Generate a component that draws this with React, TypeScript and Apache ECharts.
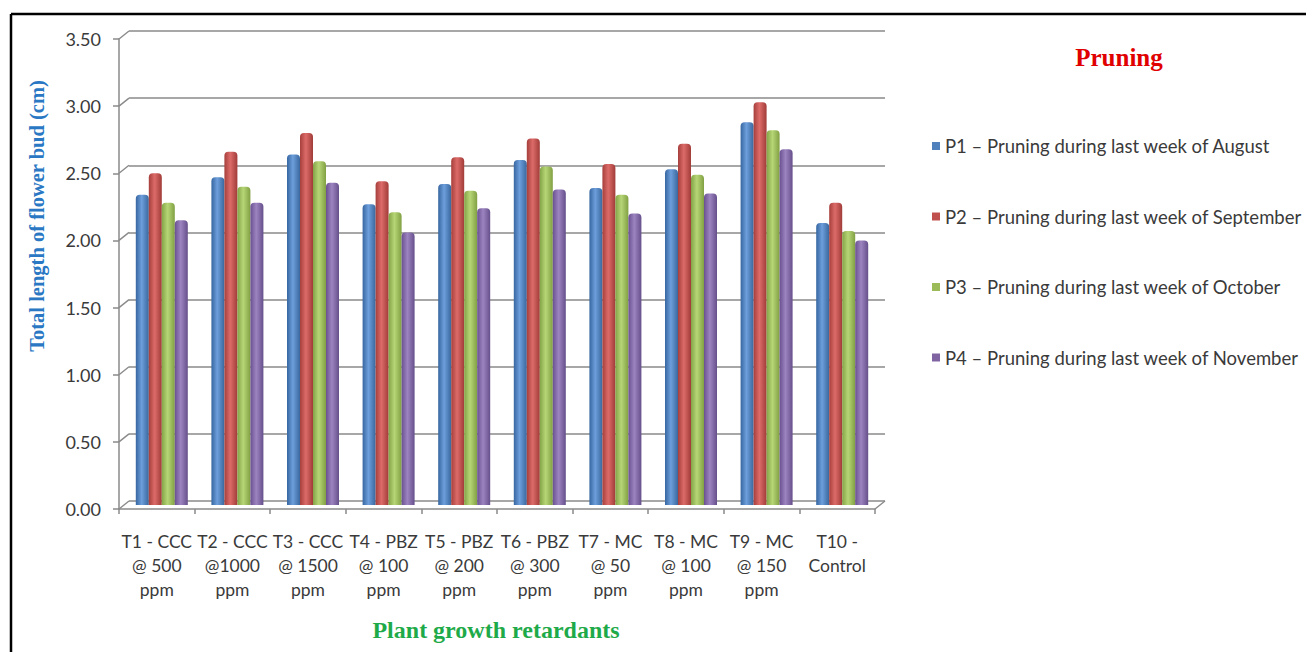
import React, { useEffect, useRef } from "react";
import * as echarts from "echarts";

const categories = [
  "T1 - CCC\n@ 500\nppm",
  "T2 - CCC\n@1000\nppm",
  "T3 - CCC\n@ 1500\nppm",
  "T4 - PBZ\n@ 100\nppm",
  "T5 - PBZ\n@ 200\nppm",
  "T6 - PBZ\n@ 300\nppm",
  "T7 - MC\n@ 50\nppm",
  "T8 - MC\n@ 100\nppm",
  "T9 - MC\n@ 150\nppm",
  "T10 -\nControl",
];
const seriesNames = [
  "P1 – Pruning during last week of August",
  "P2 – Pruning during last week of September",
  "P3 – Pruning during last week of October",
  "P4 – Pruning during last week of November",
];
const p1 = [2.31, 2.44, 2.61, 2.24, 2.39, 2.57, 2.36, 2.5, 2.85, 2.1];
const p2 = [2.47, 2.63, 2.77, 2.41, 2.59, 2.73, 2.54, 2.69, 3.0, 2.25];
const p3 = [2.25, 2.37, 2.56, 2.18, 2.34, 2.52, 2.31, 2.46, 2.79, 2.04];
const p4 = [2.12, 2.25, 2.4, 2.03, 2.21, 2.35, 2.17, 2.32, 2.65, 1.97];
const yTicks = [0, 0.5, 1, 1.5, 2, 2.5, 3, 3.5];
const yMin = 0;
const yMax = 3.5;
const yInterval = 0.5;

const colors = [
  ["#3766a0", "#6d9fdc", "#3a679d"],
  ["#a63f3c", "#dc6b68", "#a13c39"],
  ["#83a447", "#b6d676", "#80a043"],
  ["#6a5090", "#9c84c0", "#66508c"],
];
const legendColors = ["#4f81bd", "#c0504d", "#9bbb59", "#8064a2"];

// layout
const FX = 119, FY = 39, FW = 756, FH = 470; // front plane
const DX = 10, DY = -8; // depth offset of back wall

export default function App() {
  const ref = useRef<HTMLDivElement>(null);
  useEffect(() => {
    const chart = echarts.init(ref.current!, null, { renderer: "svg" });
    const data = [p1, p2, p3, p4];
    const yPix = (v: number) => FY + ((yMax - v) / (yMax - yMin)) * FH;
    const gray = "#8a8a8a";
    const diagLines: any[] = yTicks.map((v) => ({
      type: "line",
      shape: { x1: FX, y1: yPix(v), x2: FX + DX, y2: yPix(v) + DY },
      style: { stroke: gray, lineWidth: 1.5 },
      z: 1,
    }));
    diagLines.push({
      type: "line",
      shape: { x1: FX + FW, y1: FY + FH, x2: FX + FW + DX, y2: FY + FH + DY },
      style: { stroke: gray, lineWidth: 1.5 },
      z: 1,
    });
    const baseY = {
      type: "value",
      min: yMin,
      max: yMax,
      interval: yInterval,
    };
    const option: any = {
      animation: false,
      backgroundColor: "#ffffff",
      grid: [
        { left: FX, top: FY, width: FW, height: FH },
        { left: FX + DX / 2, top: FY + DY / 2, width: FW, height: FH },
        { left: FX + DX, top: FY + DY, width: FW, height: FH },
      ],
      xAxis: [
        {
          type: "category",
          gridIndex: 0,
          data: categories,
          axisLine: { lineStyle: { color: gray, width: 1.5 } },
          axisTick: { show: true, length: 5, inside: false, lineStyle: { color: gray, width: 1.5 } },
          axisLabel: {
            interval: 0,
            margin: 20,
            fontFamily: "Lato",
            fontSize: 17.5,
            lineHeight: 24,
            color: "#3a3a3a",
          },
        },
        { type: "category", gridIndex: 1, data: categories, show: false },
        { type: "category", gridIndex: 2, data: categories, show: false },
      ],
      yAxis: [
        {
          ...baseY,
          gridIndex: 0,
          axisLine: { show: true, lineStyle: { color: gray, width: 1.5 } },
          axisTick: { show: true, length: 6, lineStyle: { color: gray, width: 1.5 } },
          splitLine: { show: false },
          axisLabel: {
            margin: 18,
            fontFamily: "Lato",
            fontSize: 18,
            color: "#3a3a3a",
            formatter: (v: number) => v.toFixed(2),
          },
        },
        { ...baseY, gridIndex: 1, show: false, splitLine: { show: false } },
        {
          ...baseY,
          gridIndex: 2,
          axisLine: { show: false },
          axisTick: { show: false },
          axisLabel: { show: false },
          splitLine: { show: true, lineStyle: { color: gray, width: 1.5 } },
        },
      ],
      legend: {
        orient: "vertical",
        left: 927,
        top: 131,
        itemWidth: 8,
        itemHeight: 8,
        itemGap: 50.5,
        icon: "rect",
        textStyle: { fontFamily: "Lato", fontSize: 18.5, color: "#3a3a3a", lineHeight: 20 },
        data: seriesNames.map((n, i) => ({
          name: n,
          itemStyle: { color: legendColors[i] },
        })),
      },
      series: data.map((d, i) => ({
        name: seriesNames[i],
        type: "bar",
        xAxisIndex: 1,
        yAxisIndex: 1,
        data: d,
        barWidth: 13,
        barGap: "0%",
        itemStyle: {
          color: new echarts.graphic.LinearGradient(0, 0, 1, 0, [
            { offset: 0, color: colors[i][0] },
            { offset: 0.45, color: colors[i][1] },
            { offset: 1, color: colors[i][2] },
          ]),
          borderRadius: [4, 4, 0, 0],
          borderWidth: 0,
        },
        z: 3,
      })),
      graphic: [
        ...diagLines,
        {
          type: "line",
          shape: { x1: 11, y1: 14, x2: 1306, y2: 14 },
          style: { stroke: "#000000", lineWidth: 2.5 },
        },
        {
          type: "line",
          shape: { x1: 11, y1: 14, x2: 11, y2: 652 },
          style: { stroke: "#000000", lineWidth: 2.5 },
        },
        {
          type: "text",
          x: 1119,
          y: 57,
          style: {
            text: "Pruning",
            fill: "#e00000",
            font: "bold 25px 'Liberation Serif'",
            textAlign: "center",
            textVerticalAlign: "middle",
          },
        },
        {
          type: "text",
          x: 496,
          y: 630,
          style: {
            text: "Plant growth retardants",
            fill: "#1faa4a",
            font: "bold 24px 'Liberation Serif'",
            textAlign: "center",
            textVerticalAlign: "middle",
          },
        },
        {
          type: "text",
          x: 37,
          y: 216,
          rotation: Math.PI / 2,
          style: {
            text: "Total length of flower bud (cm)",
            fill: "#2a78c4",
            font: "bold 20.5px 'Liberation Serif'",
            textAlign: "center",
            textVerticalAlign: "middle",
          },
        },
      ],
    };
    chart.setOption(option);
    return () => chart.dispose();
  }, []);
  return (
    <div
      ref={ref}
      style={{ position: "fixed", left: 0, top: 0, width: 1306, height: 652 }}
    />
  );
}
